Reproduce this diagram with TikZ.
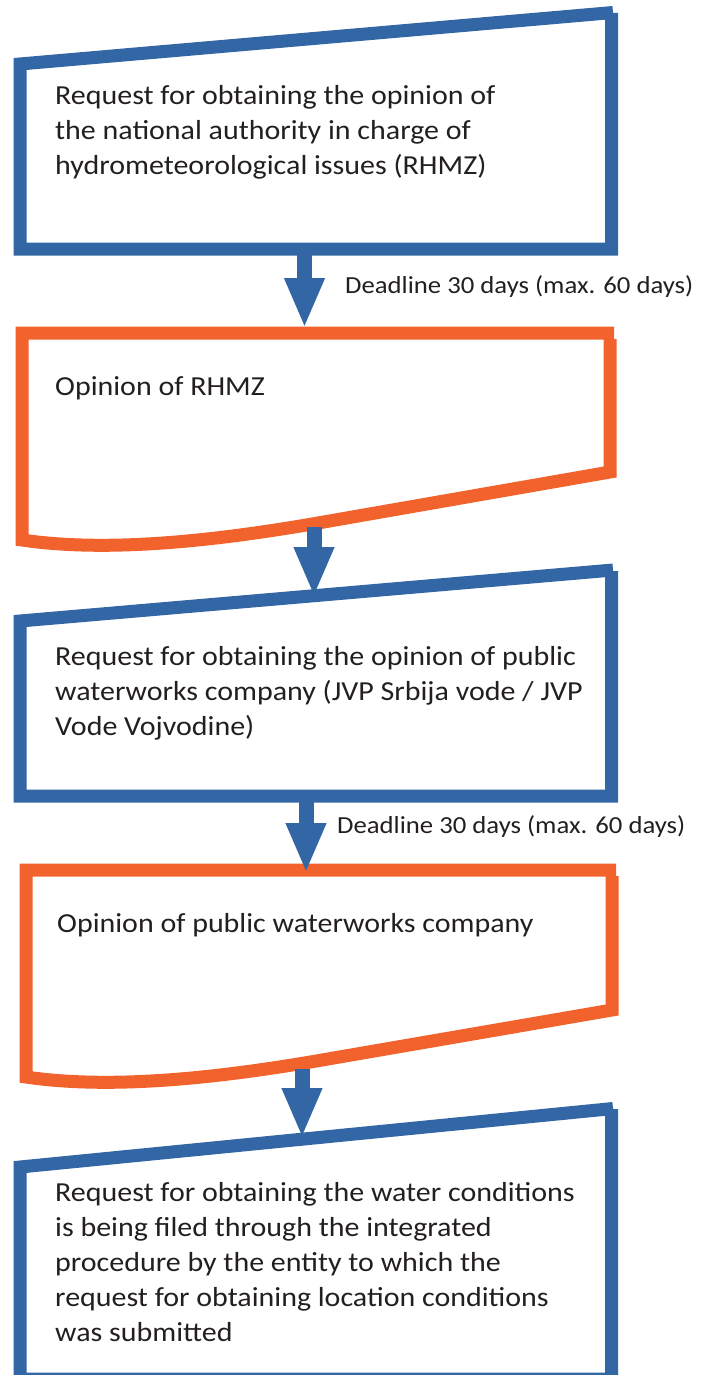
\documentclass[tikz,border=0pt]{standalone}
\usepackage{fontspec}
\setmainfont{Carlito}[FakeStretch=1.09]
\usetikzlibrary{arrows.meta}
\definecolor{bblue}{RGB}{51,102,165}
\definecolor{borange}{RGB}{241,98,44}
\definecolor{txt}{RGB}{35,31,32}
\begin{document}
\begin{tikzpicture}[x=1pt,y=-1pt,
  blueframe/.style={draw=bblue, line width=13pt, line join=miter, line cap=butt},
  orangeframe/.style={draw=borange, line width=13pt, line join=miter, line cap=butt},
  flow/.style={draw=bblue, line width=15pt, -{Triangle[width=37pt,length=50pt]}},
  boxtext/.style={anchor=base west, inner sep=0pt, text=txt, align=left, font=\fontsize{27.5}{35}\selectfont},
  deadline/.style={anchor=base west, inner sep=0pt, text=txt, font=\fontsize{24.5}{30}\selectfont},
]
\useasboundingbox (0,0) rectangle (709,1375);
% box 1
\draw[blueframe] (613,12.5) -- (20,64) -- (20,249) -- (611.5,249) -- (611.5,13);
% box 2
\draw[orangeframe] (614,333) -- (22,333) -- (22,540) .. controls (110,553) and (220,540) .. (318,523) -- (610,472) -- (610,339);
% box 3
\draw[blueframe] (613,570) -- (20,621) -- (20,796) -- (611.5,796) -- (611.5,571);
% box 4
\draw[orangeframe] (616,870) -- (26,870) -- (26,1077) .. controls (114,1090) and (224,1077) .. (322,1060) -- (612,1010) -- (612,876);
% box 5
\draw[blueframe] (613,1108.5) -- (20,1167) -- (20,1379) -- (611.5,1379) -- (611.5,1109);

% texts (anchor = baseline of the last line)
\node[boxtext] (t1) at (55,175) {Request for obtaining the opinion of\\the national authority in charge of\\hydrometeorological issues (RHMZ)};
\node[boxtext] (t2) at (55,395) {Opinion of RHMZ};
\node[boxtext] (t3) at (55,735) {Request for obtaining the opinion of public\\waterworks company (JVP Srbija vode / JVP\\Vode Vojvodine)};
\node[boxtext] (t4) at (57,932) {Opinion of public waterworks company};
\node[boxtext] (t5) at (55,1341) {Request for obtaining the water conditions\\is being filed through the integrated\\procedure by the entity to which the\\request for obtaining location conditions\\was submitted};
\node[deadline] (d1) at (345,293) {Deadline 30 days (max. 60 days)};
\node[deadline] (d2) at (337,833) {Deadline 30 days (max. 60 days)};

% connector end points
\coordinate (b1s) at (304.5,249);
\coordinate (o1n) at (304.5,328);
\coordinate (o1s) at (314,527);
\coordinate (b3n) at (314,597);
\coordinate (b3s) at (306,796);
\coordinate (o2n) at (306,873);
\coordinate (o2s) at (302,1069);
\coordinate (b5n) at (302,1138);
\draw[flow] (b1s) -- (o1n);
\draw[flow] (o1s) -- (b3n);
\draw[flow] (b3s) -- (o2n);
\draw[flow] (o2s) -- (b5n);
\end{tikzpicture}
\end{document}
